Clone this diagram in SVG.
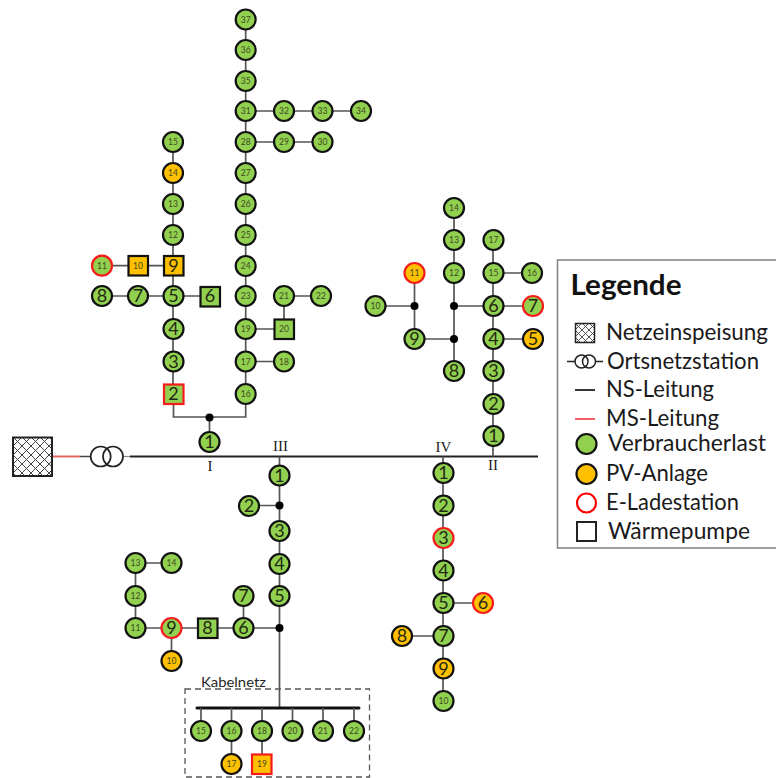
<svg xmlns="http://www.w3.org/2000/svg" width="776" height="778" viewBox="0 0 776 778">
<style>
text{font-family:Lato,"Liberation Sans",Arial,sans-serif;text-anchor:middle;fill:#262626}
.s{font-size:8.5px;fill:#3d4a20}
.b{font-size:18px;fill:#1f2a10}
.g{fill:#92D050;stroke:#111;stroke-width:2.2}
.o{fill:#FFC000;stroke:#111;stroke-width:2.2}
.gr{fill:#92D050;stroke:#F51C1C;stroke-width:2.2}
.or{fill:#FFC000;stroke:#F51C1C;stroke-width:2.2}
.l{stroke:#555;stroke-width:1.7;fill:none}
.d{fill:#000}
.r{font-family:"Liberation Serif",serif;font-size:15px;fill:#222}
.t{font-size:23px;text-anchor:start;fill:#1a1a1a}
</style>
<defs>
<pattern id="hatch" width="9" height="9" patternUnits="userSpaceOnUse" patternTransform="translate(13 437)">
<path d="M0 0L9 9M9 0L0 9" stroke="#444" stroke-width="1" fill="none"/>
</pattern>
<pattern id="hatch2" width="7" height="7" patternUnits="userSpaceOnUse" patternTransform="translate(575 323)">
<path d="M0 0L7 7M7 0L0 7" stroke="#444" stroke-width=".9" fill="none"/>
</pattern>
</defs>
<g id="connectors">
<path d="M52 456.500H80" stroke="#E06666" stroke-width="2" fill="none"/>
<path d="M80 456.500H91" stroke="#444" stroke-width="1.500" fill="none"/>
<path d="M123 456.500H130" stroke="#888" stroke-width="1.200" fill="none"/>
<path d="M130 456.500H538" stroke="#222" stroke-width="2.200" fill="none"/>
<path class="l" d="M209.500 417V442M173.500 404V417H245.700V394M173 142V394M102 265.700H173M102 296H210M245.700 19V394M245.700 142H321M245.700 111H360M245.700 361.500H284M245.700 329H284M284 296V329M284 296H321"/>
<path class="l" d="M279.500 456.500V708M249 505.500H279.500M135.500 628H279.500M243.500 596V628M135.500 563V628M135.500 563H171.500M171.500 628V661"/>
<path d="M197 708H359" stroke="#111" stroke-width="3" stroke-linecap="round" fill="none"/>
<path class="l" d="M201 708V731M231.500 708V764M262 708V764M292.500 708V731M323 708V731M354 708V731"/>
<path class="l" d="M443 456.500V701M443 603H483M402 636H443"/>
<path class="l" d="M493 456.500V240M493 273H532M493 306H533M493 339H533M454 208V371M454 306H493M414.500 339H454M414.500 273V339M375.500 306H414.500"/>
</g>
<g id="source"><rect x="13" y="437.500" width="39" height="38.500" fill="url(#hatch)" stroke="#222" stroke-width="2"/></g>
<g id="station"><circle cx="100.700" cy="456.500" r="10" fill="none" stroke="#222" stroke-width="1.700"/><circle cx="113" cy="456.500" r="10" fill="none" stroke="#222" stroke-width="1.700"/></g>
<g id="junctions">
<circle class="d" cx="209.500" cy="417.500" r="4"/><circle class="d" cx="279.500" cy="505.500" r="4"/><circle class="d" cx="279.500" cy="628" r="4"/><circle class="d" cx="454" cy="306" r="4"/><circle class="d" cx="454" cy="339" r="4"/><circle class="d" cx="414.500" cy="306" r="4"/>
</g>
<g id="feeder-labels">
<text class="r" x="210" y="471">I</text><text class="r" x="280.500" y="451">III</text><text class="r" x="443.500" y="452">IV</text><text class="r" x="493" y="470">II</text>
</g>
<g id="feeder-I">
<g id="I-1"><circle class="g" cx="209.500" cy="442" r="10"/><text class="b" x="209.500" y="448">1</text></g>
<g id="I-2"><rect class="gr" x="164" y="384.500" width="19.500" height="19.500"/><text class="b" x="173.500" y="400">2</text></g>
<g id="I-3"><circle class="g" cx="173.500" cy="361.500" r="10"/><text class="b" x="173.500" y="367.500">3</text></g>
<g id="I-4"><circle class="g" cx="173.500" cy="329" r="10"/><text class="b" x="173.500" y="335">4</text></g>
<g id="I-5"><circle class="g" cx="173.500" cy="296" r="10"/><text class="b" x="173.500" y="302">5</text></g>
<g id="I-6"><rect class="g" x="200.500" y="287" width="19.500" height="19.500"/><text class="b" x="210" y="302">6</text></g>
<g id="I-7"><circle class="g" cx="138" cy="296" r="10"/><text class="b" x="138" y="302">7</text></g>
<g id="I-8"><circle class="g" cx="102" cy="296" r="10"/><text class="b" x="102" y="302">8</text></g>
<g id="I-9"><rect class="o" x="164" y="256" width="19.500" height="19.500"/><text class="b" x="173.500" y="271.500">9</text></g>
<g id="I-10"><rect class="o" x="128.500" y="256" width="19.500" height="19.500"/><text class="s" x="138" y="268.500">10</text></g>
<g id="I-11"><circle class="gr" cx="102" cy="265.700" r="10"/><text class="s" x="102" y="268.500">11</text></g>
<g id="I-12"><circle class="g" cx="173" cy="235" r="10"/><text class="s" x="173" y="238">12</text></g>
<g id="I-13"><circle class="g" cx="173" cy="204" r="10"/><text class="s" x="173" y="207">13</text></g>
<g id="I-14"><circle class="o" cx="173" cy="173" r="10"/><text class="s" x="173" y="176">14</text></g>
<g id="I-15"><circle class="g" cx="173" cy="142" r="10"/><text class="s" x="173" y="145">15</text></g>
<g id="I-16"><circle class="g" cx="245.700" cy="394" r="10"/><text class="s" x="245.700" y="397">16</text></g>
<g id="I-17"><circle class="g" cx="245.700" cy="361.500" r="10"/><text class="s" x="245.700" y="364.500">17</text></g>
<g id="I-18"><circle class="g" cx="284" cy="361.500" r="10"/><text class="s" x="284" y="364.500">18</text></g>
<g id="I-19"><circle class="g" cx="245.700" cy="329" r="10"/><text class="s" x="245.700" y="332">19</text></g>
<g id="I-20"><rect class="g" x="274.500" y="319.500" width="19.500" height="19.500"/><text class="s" x="284" y="332">20</text></g>
<g id="I-21"><circle class="g" cx="284" cy="296" r="10"/><text class="s" x="284" y="299">21</text></g>
<g id="I-22"><circle class="g" cx="321" cy="296" r="10"/><text class="s" x="321" y="299">22</text></g>
<g id="I-23"><circle class="g" cx="245.700" cy="296" r="10"/><text class="s" x="245.700" y="299">23</text></g>
<g id="I-24"><circle class="g" cx="245.700" cy="266" r="10"/><text class="s" x="245.700" y="269">24</text></g>
<g id="I-25"><circle class="g" cx="245.700" cy="235" r="10"/><text class="s" x="245.700" y="238">25</text></g>
<g id="I-26"><circle class="g" cx="245.700" cy="204" r="10"/><text class="s" x="245.700" y="207">26</text></g>
<g id="I-27"><circle class="g" cx="245.700" cy="173" r="10"/><text class="s" x="245.700" y="176">27</text></g>
<g id="I-28"><circle class="g" cx="245.700" cy="142" r="10"/><text class="s" x="245.700" y="145">28</text></g>
<g id="I-29"><circle class="g" cx="284" cy="142" r="10"/><text class="s" x="284" y="145">29</text></g>
<g id="I-30"><circle class="g" cx="322.500" cy="142" r="10"/><text class="s" x="322.500" y="145">30</text></g>
<g id="I-31"><circle class="g" cx="245.700" cy="111" r="10"/><text class="s" x="245.700" y="114">31</text></g>
<g id="I-32"><circle class="g" cx="284" cy="111" r="10"/><text class="s" x="284" y="114">32</text></g>
<g id="I-33"><circle class="g" cx="322.500" cy="111" r="10"/><text class="s" x="322.500" y="114">33</text></g>
<g id="I-34"><circle class="g" cx="361" cy="111" r="10"/><text class="s" x="361" y="114">34</text></g>
<g id="I-35"><circle class="g" cx="245.700" cy="81" r="10"/><text class="s" x="245.700" y="84">35</text></g>
<g id="I-36"><circle class="g" cx="245.700" cy="50" r="10"/><text class="s" x="245.700" y="53">36</text></g>
<g id="I-37"><circle class="g" cx="245.700" cy="19.500" r="10"/><text class="s" x="245.700" y="22.500">37</text></g>
</g>
<g id="feeder-II">
<g id="II-1"><circle class="g" cx="493.500" cy="436" r="10"/><text class="b" x="493.500" y="442">1</text></g>
<g id="II-2"><circle class="g" cx="493.500" cy="404" r="10"/><text class="b" x="493.500" y="410">2</text></g>
<g id="II-3"><circle class="g" cx="493.500" cy="371" r="10"/><text class="b" x="493.500" y="377">3</text></g>
<g id="II-4"><circle class="g" cx="493.500" cy="339" r="10"/><text class="b" x="493.500" y="345">4</text></g>
<g id="II-5"><circle class="o" cx="533" cy="339" r="10"/><text class="b" x="533" y="345">5</text></g>
<g id="II-6"><circle class="g" cx="493.500" cy="306" r="10"/><text class="b" x="493.500" y="312">6</text></g>
<g id="II-7"><circle class="gr" cx="533" cy="306" r="10"/><text class="b" x="533" y="312">7</text></g>
<g id="II-8"><circle class="g" cx="454" cy="371" r="10"/><text class="b" x="454" y="377">8</text></g>
<g id="II-9"><circle class="g" cx="414.500" cy="339" r="10"/><text class="b" x="414.500" y="345">9</text></g>
<g id="II-10"><circle class="g" cx="375.500" cy="306" r="10"/><text class="s" x="375.500" y="309">10</text></g>
<g id="II-11"><circle class="or" cx="414.500" cy="273" r="10"/><text class="s" x="414.500" y="276">11</text></g>
<g id="II-12"><circle class="g" cx="454" cy="273" r="10"/><text class="s" x="454" y="276">12</text></g>
<g id="II-13"><circle class="g" cx="454" cy="240" r="10"/><text class="s" x="454" y="243">13</text></g>
<g id="II-14"><circle class="g" cx="454" cy="208" r="10"/><text class="s" x="454" y="211">14</text></g>
<g id="II-15"><circle class="g" cx="493.500" cy="273" r="10"/><text class="s" x="493.500" y="276">15</text></g>
<g id="II-16"><circle class="g" cx="532" cy="273" r="10"/><text class="s" x="532" y="276">16</text></g>
<g id="II-17"><circle class="g" cx="493.500" cy="240" r="10"/><text class="s" x="493.500" y="243">17</text></g>
</g>
<g id="feeder-III">
<g id="III-1"><circle class="g" cx="279.500" cy="475.500" r="10"/><text class="b" x="279.500" y="481.500">1</text></g>
<g id="III-2"><circle class="g" cx="249" cy="506" r="10"/><text class="b" x="249" y="512">2</text></g>
<g id="III-3"><circle class="g" cx="279.500" cy="531" r="10"/><text class="b" x="279.500" y="537">3</text></g>
<g id="III-4"><circle class="g" cx="279.500" cy="564" r="10"/><text class="b" x="279.500" y="570">4</text></g>
<g id="III-5"><circle class="g" cx="279.500" cy="596" r="10"/><text class="b" x="279.500" y="602">5</text></g>
<g id="III-6"><circle class="g" cx="243.500" cy="628" r="10"/><text class="b" x="243.500" y="634">6</text></g>
<g id="III-7"><circle class="g" cx="243.500" cy="596" r="10"/><text class="b" x="243.500" y="602">7</text></g>
<g id="III-8"><rect class="g" x="198" y="618.500" width="19.500" height="19.500"/><text class="b" x="207.500" y="634">8</text></g>
<g id="III-9"><circle class="gr" cx="171.500" cy="628" r="10"/><text class="b" x="171.500" y="634">9</text></g>
<g id="III-10"><circle class="o" cx="171.500" cy="661" r="10"/><text class="s" x="171.500" y="664">10</text></g>
<g id="III-11"><circle class="g" cx="135.500" cy="628" r="10"/><text class="s" x="135.500" y="631">11</text></g>
<g id="III-12"><circle class="g" cx="135.500" cy="596" r="10"/><text class="s" x="135.500" y="599">12</text></g>
<g id="III-13"><circle class="g" cx="135.500" cy="563" r="10"/><text class="s" x="135.500" y="566">13</text></g>
<g id="III-14"><circle class="g" cx="171.500" cy="563" r="10"/><text class="s" x="171.500" y="566">14</text></g>
<g id="III-15"><circle class="g" cx="201" cy="731" r="10"/><text class="s" x="201" y="734">15</text></g>
<g id="III-16"><circle class="g" cx="231.500" cy="731" r="10"/><text class="s" x="231.500" y="734">16</text></g>
<g id="III-17"><circle class="o" cx="231.500" cy="764" r="10"/><text class="s" x="231.500" y="767">17</text></g>
<g id="III-18"><circle class="g" cx="262" cy="731" r="10"/><text class="s" x="262" y="734">18</text></g>
<g id="III-19"><rect class="or" x="252" y="754.500" width="19.500" height="19.500"/><text class="s" x="262" y="767">19</text></g>
<g id="III-20"><circle class="g" cx="292.500" cy="731" r="10"/><text class="s" x="292.500" y="734">20</text></g>
<g id="III-21"><circle class="g" cx="323" cy="731" r="10"/><text class="s" x="323" y="734">21</text></g>
<g id="III-22"><circle class="g" cx="354" cy="731" r="10"/><text class="s" x="354" y="734">22</text></g>
</g>
<g id="feeder-IV">
<g id="IV-1"><circle class="g" cx="443.500" cy="473" r="10"/><text class="b" x="443.500" y="479">1</text></g>
<g id="IV-2"><circle class="g" cx="443.500" cy="505.500" r="10"/><text class="b" x="443.500" y="511.500">2</text></g>
<g id="IV-3"><circle class="gr" cx="443.500" cy="538" r="10"/><text class="b" x="443.500" y="544">3</text></g>
<g id="IV-4"><circle class="g" cx="443.500" cy="570.500" r="10"/><text class="b" x="443.500" y="576.500">4</text></g>
<g id="IV-5"><circle class="g" cx="443.500" cy="603" r="10"/><text class="b" x="443.500" y="609">5</text></g>
<g id="IV-6"><circle class="or" cx="483" cy="603" r="10"/><text class="b" x="483" y="609">6</text></g>
<g id="IV-7"><circle class="g" cx="443.500" cy="636" r="10"/><text class="b" x="443.500" y="642">7</text></g>
<g id="IV-8"><circle class="o" cx="402" cy="636" r="10"/><text class="b" x="402" y="642">8</text></g>
<g id="IV-9"><circle class="o" cx="443.500" cy="668.500" r="10"/><text class="b" x="443.500" y="674.500">9</text></g>
<g id="IV-10"><circle class="g" cx="443.500" cy="701" r="10"/><text class="s" x="443.500" y="704">10</text></g>
</g>
<g id="kabelnetz">
<rect x="185" y="689" width="184.500" height="88" fill="none" stroke="#555" stroke-width="1.300" stroke-dasharray="6 4"/>
<text x="233.500" y="687" font-size="14" textLength="65" lengthAdjust="spacingAndGlyphs">Kabelnetz</text>
</g>
<g id="legend">
<rect x="557.500" y="260" width="222" height="288" fill="#fff" stroke="#808080" stroke-width="1.500"/>
<text x="570.500" y="295" textLength="111" lengthAdjust="spacingAndGlyphs" style="text-anchor:start;font-size:29px;font-weight:bold;fill:#111">Legende</text>
<rect x="575.500" y="323.500" width="19" height="19" fill="url(#hatch2)" stroke="#222" stroke-width="1.500"/>
<text class="t" x="606" y="340" textLength="162" lengthAdjust="spacingAndGlyphs">Netzeinspeisung</text>
<path d="M567 361.500H575M595.500 361.500H603" stroke="#222" stroke-width="1.500" fill="none"/>
<circle cx="581.500" cy="361.500" r="6.500" fill="none" stroke="#222" stroke-width="1.500"/><circle cx="589" cy="361.500" r="6.500" fill="none" stroke="#222" stroke-width="1.500"/>
<text class="t" x="607" y="369" textLength="152" lengthAdjust="spacingAndGlyphs">Ortsnetzstation</text>
<path d="M575 390H595" stroke="#111" stroke-width="1.700" fill="none"/>
<text class="t" x="606" y="397" textLength="108" lengthAdjust="spacingAndGlyphs">NS-Leitung</text>
<path d="M575 419H595" stroke="#F0444A" stroke-width="1.700" fill="none"/>
<text class="t" x="606" y="426" textLength="113" lengthAdjust="spacingAndGlyphs">MS-Leitung</text>
<circle class="g" cx="586.500" cy="444" r="10"/>
<text class="t" x="608" y="451" textLength="158" lengthAdjust="spacingAndGlyphs">Verbraucherlast</text>
<circle class="o" cx="586.500" cy="474" r="10"/>
<text class="t" x="606" y="481" textLength="102" lengthAdjust="spacingAndGlyphs">PV-Anlage</text>
<circle cx="586.500" cy="503" r="9.500" fill="#fff" stroke="#F00" stroke-width="2.200"/>
<text class="t" x="606" y="510" textLength="133" lengthAdjust="spacingAndGlyphs">E-Ladestation</text>
<rect x="577" y="522" width="19" height="19" fill="#fff" stroke="#222" stroke-width="2"/>
<text class="t" x="608" y="539" textLength="142" lengthAdjust="spacingAndGlyphs">Wärmepumpe</text>
</g>
</svg>
